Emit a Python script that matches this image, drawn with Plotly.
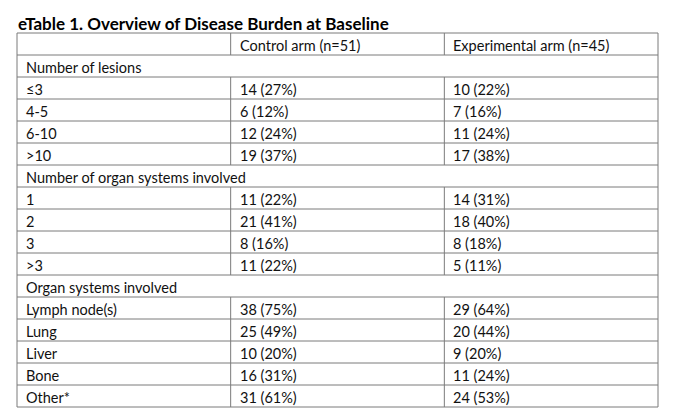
import plotly.graph_objects as go

title = "eTable 1. Overview of Disease Burden at Baseline"
header = ["", "Control arm (n=51)", "Experimental arm (n=45)"]

lesion_labels = ["≤3", "4-5", "6-10", ">10"]
lesion_control = ["14 (27%)", "6 (12%)", "12 (24%)", "19 (37%)"]
lesion_exp = ["10 (22%)", "7 (16%)", "11 (24%)", "17 (38%)"]

count_labels = ["1", "2", "3", ">3"]
count_control = ["11 (22%)", "21 (41%)", "8 (16%)", "11 (22%)"]
count_exp = ["14 (31%)", "18 (40%)", "8 (18%)", "5 (11%)"]

organ_labels = ["Lymph node(s)", "Lung", "Liver", "Bone", "Other*"]
organ_control = ["38 (75%)", "25 (49%)", "10 (20%)", "16 (31%)", "31 (61%)"]
organ_exp = ["29 (64%)", "20 (44%)", "9 (20%)", "11 (24%)", "24 (53%)"]

sections = [
    ("Number of lesions", lesion_labels, lesion_control, lesion_exp),
    ("Number of organ systems involved", count_labels, count_control, count_exp),
    ("Organ systems involved", organ_labels, organ_control, organ_exp),
]

# build the row list: (cells, is_section_row)
rows = [(header, False)]
for name, labels, ctrl, exp in sections:
    rows.append(([name], True))
    for a, b, c in zip(labels, ctrl, exp):
        rows.append(([a, b, c], False))

n_rows = len(rows)
n_cols = 3
W, H = 680, 408
line_col = "#7b7b7b"
font = "Lato, 'Open Sans', sans-serif"

# the page body has an 8px margin, so work in page pixels and shift back
off = 8
tab_l, tab_r, tab_t, tab_b = 17 - off, 658 - off, 33 - off, 407 - off
plot_l, plot_r, plot_t, plot_b = 4, 654, 20, 402
xs = n_cols / (tab_r - tab_l)
ys = n_rows / (tab_b - tab_t)
x_range = [-(tab_l - plot_l) * xs, n_cols + (plot_r - tab_r) * xs]
y_range = [n_rows + (plot_b - tab_b) * ys, -(tab_t - plot_t) * ys]

# grid lines
lx, ly = [], []
for i in range(n_rows + 1):
    lx += [0, n_cols, None]
    ly += [i, i, None]
for c in [0, n_cols]:
    lx += [c, c, None]
    ly += [0, n_rows, None]
for i, (cells, is_sec) in enumerate(rows):
    if not is_sec:
        for c in range(1, n_cols):
            lx += [c, c, None]
            ly += [i, i + 1, None]

fig = go.Figure()
fig.add_trace(go.Scatter(x=lx, y=ly, mode="lines",
                         line=dict(color=line_col, width=1),
                         hoverinfo="skip", showlegend=False))

for i, (cells, is_sec) in enumerate(rows):
    for c, txt in enumerate(cells):
        if txt == "":
            continue
        fig.add_annotation(x=c, y=i + 0.5, text=txt, showarrow=False,
                           xanchor="left", yanchor="middle", xshift=7, yshift=-1,
                           font=dict(family=font, size=14.5, color="#111"))

fig.add_annotation(xref="paper", yref="paper", x=0, y=1, xanchor="left", yanchor="bottom",
                   text="<b>" + title + "</b>", showarrow=False, xshift=tab_l - plot_l - 1,
                   yshift=-8, font=dict(family=font, size=17, color="#000"))

fig.update_layout(
    width=W, height=H,
    margin=dict(l=plot_l, r=W - plot_r, t=plot_t, b=H - plot_b, pad=0),
    paper_bgcolor="white", plot_bgcolor="white",
    xaxis=dict(range=x_range, visible=False, fixedrange=True),
    yaxis=dict(range=y_range, visible=False, fixedrange=True),
)

fig.write_html("out.html", config={"displayModeBar": False})
